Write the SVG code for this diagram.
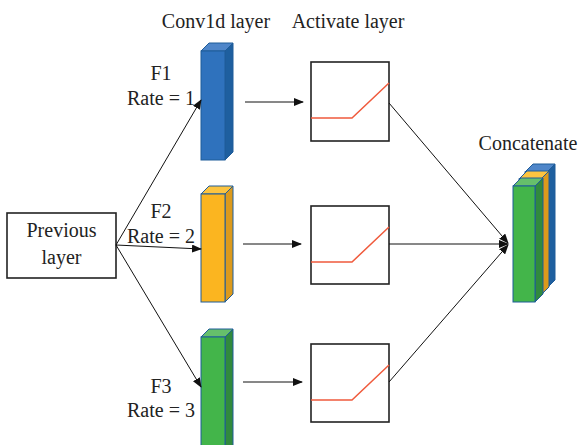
<svg xmlns="http://www.w3.org/2000/svg" width="581" height="445" viewBox="0 0 581 445">
<style>
text{font-family:"Liberation Serif","Times New Roman",serif;font-size:20px;fill:#222;text-anchor:middle}
.box{fill:#fff;stroke:#222;stroke-width:1.6}
.relu{fill:none;stroke:#f05a3c;stroke-width:1.5}
.con{fill:none;stroke:#111;stroke-width:1}
.edge{stroke:#1f5c99;stroke-width:1}
.bF{fill:#2f72bd}.bS{fill:#1e5f9f}.bT{fill:#4f86c9}
.yF{fill:#fbb520}.yS{fill:#dc9a1c}.yT{fill:#fcc440}
.gF{fill:#43b54a}.gS{fill:#318a3d}.gT{fill:#66bf6b}
</style>
<defs>
<marker id="ah" markerWidth="10" markerHeight="8" refX="9" refY="4" orient="auto" markerUnits="userSpaceOnUse">
<path d="M0,0 L10,4 L0,8 z" fill="#111"/>
</marker>
</defs>

<g id="titles">
<text x="216" y="28">Conv1d layer</text>
<text x="348" y="28">Activate layer</text>
<text x="528" y="150">Concatenate</text>
</g>

<g id="previous">
<rect class="box" x="7" y="213" width="109" height="65"/>
<text x="61.5" y="237">Previous</text>
<text x="61.5" y="264">layer</text>
</g>

<g id="conv1">
<path class="bS edge" d="M225,51 L233,43 L233,152 L225,160 z"/>
<path class="bT edge" d="M201,51 L209,43 L233,43 L225,51 z"/>
<rect class="bF edge" x="201" y="51" width="24" height="109"/>
<text x="161" y="80">F1</text>
<text x="161" y="105">Rate = 1</text>
</g>

<g id="conv2">
<path class="yS edge" d="M225,194 L233,186 L233,294 L225,302 z"/>
<path class="yT edge" d="M201,194 L209,186 L233,186 L225,194 z"/>
<rect class="yF edge" x="201" y="194" width="24" height="108"/>
<text x="161" y="218">F2</text>
<text x="161" y="243">Rate = 2</text>
</g>

<g id="conv3">
<path class="gS edge" d="M225,337 L233,329 L233,445 L225,453 z"/>
<path class="gT edge" d="M201,337 L209,329 L233,329 L225,337 z"/>
<rect class="gF edge" x="201" y="337" width="24" height="115"/>
<text x="161" y="393">F3</text>
<text x="161" y="417">Rate = 3</text>
</g>

<g id="act1">
<rect class="box" x="311" y="62" width="78" height="79"/>
<path class="relu" d="M311,118 L352,118 L389,83"/>
</g>
<g id="act2">
<rect class="box" x="311" y="206" width="78" height="78"/>
<path class="relu" d="M311,262 L352,262 L389,227"/>
</g>
<g id="act3">
<rect class="box" x="311" y="344" width="78" height="78"/>
<path class="relu" d="M311,400 L352,400 L389,365"/>
</g>

<g id="concat">
<path class="bS edge" d="M547,172 L555,164 L555,280 L547,288 z"/>
<path class="bT edge" d="M525,172 L533,164 L555,164 L547,172 z"/>
<rect class="bF edge" x="525" y="172" width="22" height="116"/>
<path class="yS edge" d="M541,179 L549,171 L549,287 L541,295 z"/>
<path class="yT edge" d="M519,179 L527,171 L549,171 L541,179 z"/>
<rect class="yF edge" x="519" y="179" width="22" height="116"/>
<path class="gS edge" d="M535,186 L543,178 L543,294 L535,302 z"/>
<path class="gT edge" d="M513,186 L521,178 L543,178 L535,186 z"/>
<rect class="gF edge" x="513" y="186" width="22" height="116"/>
</g>

<g id="connectors">
<line class="con" x1="116" y1="245" x2="201" y2="100" marker-end="url(#ah)"/>
<line class="con" x1="116" y1="245" x2="201" y2="249" marker-end="url(#ah)"/>
<line class="con" x1="116" y1="245" x2="201" y2="387" marker-end="url(#ah)"/>
<line class="con" x1="245" y1="102" x2="303" y2="102" marker-end="url(#ah)"/>
<line class="con" x1="243" y1="244" x2="301" y2="244" marker-end="url(#ah)"/>
<line class="con" x1="243" y1="382" x2="302" y2="382" marker-end="url(#ah)"/>
<line class="con" x1="389" y1="103" x2="508" y2="243" marker-end="url(#ah)"/>
<line class="con" x1="389" y1="244" x2="508" y2="244" marker-end="url(#ah)"/>
<line class="con" x1="389" y1="382" x2="508" y2="245" marker-end="url(#ah)"/>
</g>
</svg>
